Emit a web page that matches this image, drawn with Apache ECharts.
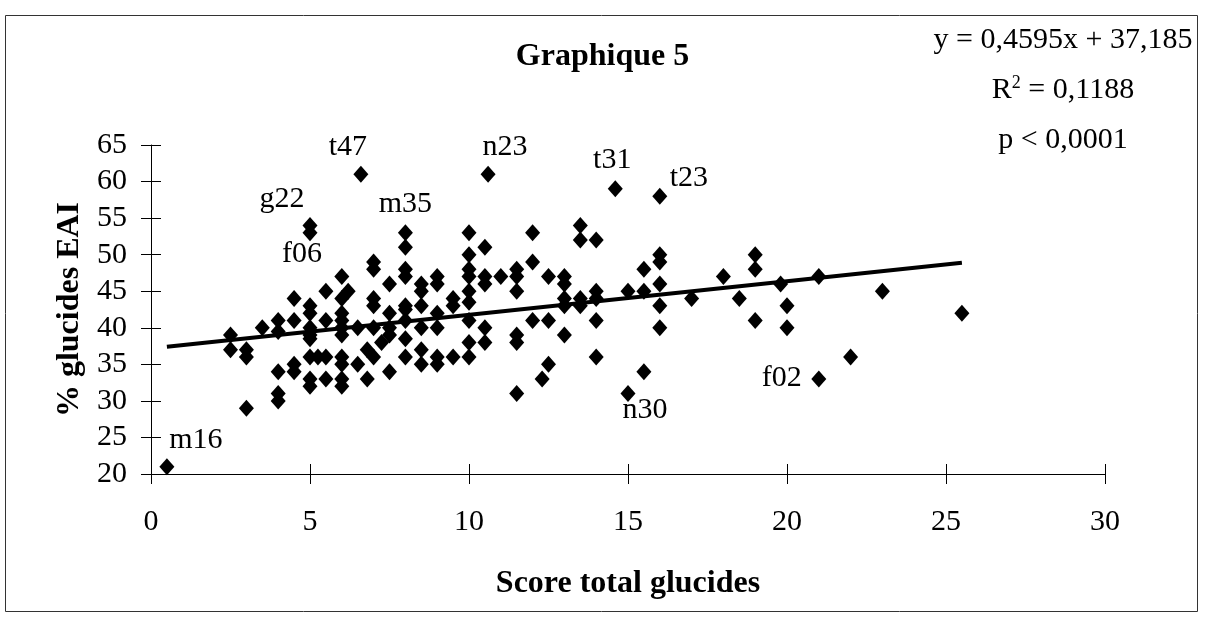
<!DOCTYPE html>
<html><head><meta charset="utf-8">
<script src="https://cdn.jsdelivr.net/npm/echarts@6/dist/echarts.min.js"></script>
<style>html,body{margin:0;padding:0;background:#fff}#c{width:1205px;height:617px}</style>
</head><body><div id="c"></div>
<script>
// score total glucides
var xs = [0.5,2.5,2.5,3,3,3,3.5,4,4,4,4,4,4.5,4.5,4.5,4.5,
5,5,5,5,5,5,5,5,5,5,5.25,5.5,5.5,5.5,5.5,
6,6,6,6,6,6,6,6,6,6,6.2,6.5,6.5,6.6,6.8,6.8,
7,7,7,7,7,7,7.25,7.5,7.5,7.5,7.5,7.5,
8,8,8,8,8,8,8,8,8,8.5,8.5,8.5,8.5,8.5,8.5,
9,9,9,9,9,9,9.5,9.5,9.5,
10,10,10,10,10,10,10,10,10,10.5,10.5,10.5,10.5,10.5,10.6,11,
11.5,11.5,11.5,11.5,11.5,11.5,12,12,12,12.3,12.5,12.5,12.5,
13,13,13,13,13,13.5,13.5,13.5,13.5,14,14,14,14,14,14.6,15,15,
15.5,15.5,15.5,16,16,16,16,16,16,17,18,18.5,19,19,19,19.8,20,20,21,21,22,23,25.5];
// % glucides EAI
var ys = [21,39,37,37,36,29,40,41,39.5,34,31,30,44,41,35,34,
54,53,43,42,40,39,38.5,36,33,32,36,45,41,36,33,
47,44,42,41,40,39,36,35,33,32,45,40,35,61,37,33,
49,48,44,43,40,36,38,46,42,40,39,34,
53,51,48,47,43,42.5,41,38.5,36,46,45,43,40,37,35,
47,46,42,40,36,35,44,43,36,
53,50,48,47,45,43.5,41,38,36,51,47,46,40,38,61,47,
48,47,45,39,38,31,53,49,41,33,47,41,35,
47,46,44,43,39,54,52,44,43,52,45,44,41,36,59,45,31,
48,45,34,58,50,49,46,43,40,44,47,44,50,48,41,46,43,40,47,33,36,45,42];
// named points
var labelNames = ['m16','g22','f06','t47','m35','n23','t31','t23','n30','f02'];
var labelX =     [0.5,  5,    5,    6.6,  8,    10.6, 14.6, 16,   15,   21];
var labelY =     [21,   54,   53,   61,   53,   61,   59,   58,   31,   33];
// regression
var slope = 0.4595, intercept = 37.185, fitRange = [0.5, 25.5];
var xTicks = [0,30,5], yTicks = [20,65,5];
var eqLines = ['y = 0,4595x + 37,185', 'R{sup|2} = 0,1188', 'p < 0,0001'];

var labelOffsets = {
  m16:[29,-27], g22:[-28,-26], f06:[-8,21], t47:[-13,-27], m35:[0,-29],
  n23:[17,-27], t31:[-3,-29], t23:[29,-18], n30:[17,17], f02:[-37,-1]
};
var FONT = "'Liberation Serif','Times New Roman',serif";
var FS = 30, FSB = 32;

var data = xs.map(function(x,i){
  var item = {value:[x, ys[i]]};
  for (var k=0;k<labelNames.length;k++){
    if (labelX[k]===x && labelY[k]===ys[i]){
      var n = labelNames[k];
      item.label = {show:true, formatter:n, position:'inside', offset:labelOffsets[n],
        color:'#000', fontFamily:FONT, fontSize:FS};
    }
  }
  return item;
});
var fit = fitRange.map(function(x){ return [x, slope*x+intercept]; });

var axisText = {color:'#000', fontFamily:FONT, fontSize:FS};
var chart = echarts.init(document.getElementById('c'), null, {renderer:'canvas'});
chart.setOption({
  animation:false,
  backgroundColor:'#fff',
  title:{text:'Graphique 5', left:'center', top:36,
    textStyle:{color:'#000', fontFamily:FONT, fontSize:FSB, fontWeight:'bold'}},
  grid:{left:151, right:100, top:145, bottom:143},
  xAxis:[{
    type:'value', min:xTicks[0], max:xTicks[1], interval:xTicks[2],
    name:'Score total glucides', nameLocation:'middle', nameGap:94,
    nameTextStyle:{color:'#000', fontFamily:FONT, fontSize:FSB, fontWeight:'bold'},
    axisLine:{show:true, onZero:false, lineStyle:{color:'#000', width:1}},
    axisTick:{show:true, length:10, lineStyle:{color:'#000'}},
    axisLabel:Object.assign({margin:33}, axisText),
    splitLine:{show:false}
  },{
    type:'value', min:xTicks[0], max:xTicks[1], interval:xTicks[2], position:'bottom',
    axisLine:{show:false}, axisTick:{show:true, inside:true, length:10, lineStyle:{color:'#000'}},
    axisLabel:{show:false}, splitLine:{show:false}
  }],
  yAxis:[{
    type:'value', min:yTicks[0], max:yTicks[1], interval:yTicks[2],
    name:'% glucides EAI', nameLocation:'middle', nameGap:56, nameRotate:90,
    nameTextStyle:{color:'#000', fontFamily:FONT, fontSize:FSB, fontWeight:'bold'},
    axisLine:{show:true, onZero:false, lineStyle:{color:'#000', width:1}},
    axisTick:{show:true, length:10, lineStyle:{color:'#000'}},
    axisLabel:Object.assign({margin:24}, axisText),
    splitLine:{show:false}
  },{
    type:'value', min:yTicks[0], max:yTicks[1], interval:yTicks[2], position:'left',
    axisLine:{show:false}, axisTick:{show:true, inside:true, length:10, lineStyle:{color:'#000'}},
    axisLabel:{show:false}, splitLine:{show:false}
  }],
  graphic:[
    {type:'rect', shape:{x:5.5, y:15.5, width:1192, height:596}, silent:true,
      style:{fill:null, stroke:'#333', lineWidth:1}},
    {type:'group', children: eqLines.map(function(t,i){
      return {type:'text', x:1063, y:40+i*50, style:{text:t, textAlign:'center', textVerticalAlign:'middle',
        fill:'#000', font:FS+'px '+FONT,
        rich:{sup:{fontSize:18, verticalAlign:'top', padding:[0,0,14,0], fontFamily:FONT, fill:'#000'}}}};
    })}
  ],
  series:[{
    type:'line', data:fit, showSymbol:false, symbol:'none',
    lineStyle:{color:'#000', width:4}, z:3
  },{
    type:'scatter', data:data, symbol:'diamond', symbolSize:[15,17],
    itemStyle:{color:'#000', opacity:1}, z:4
  }]
});
</script></body></html>
